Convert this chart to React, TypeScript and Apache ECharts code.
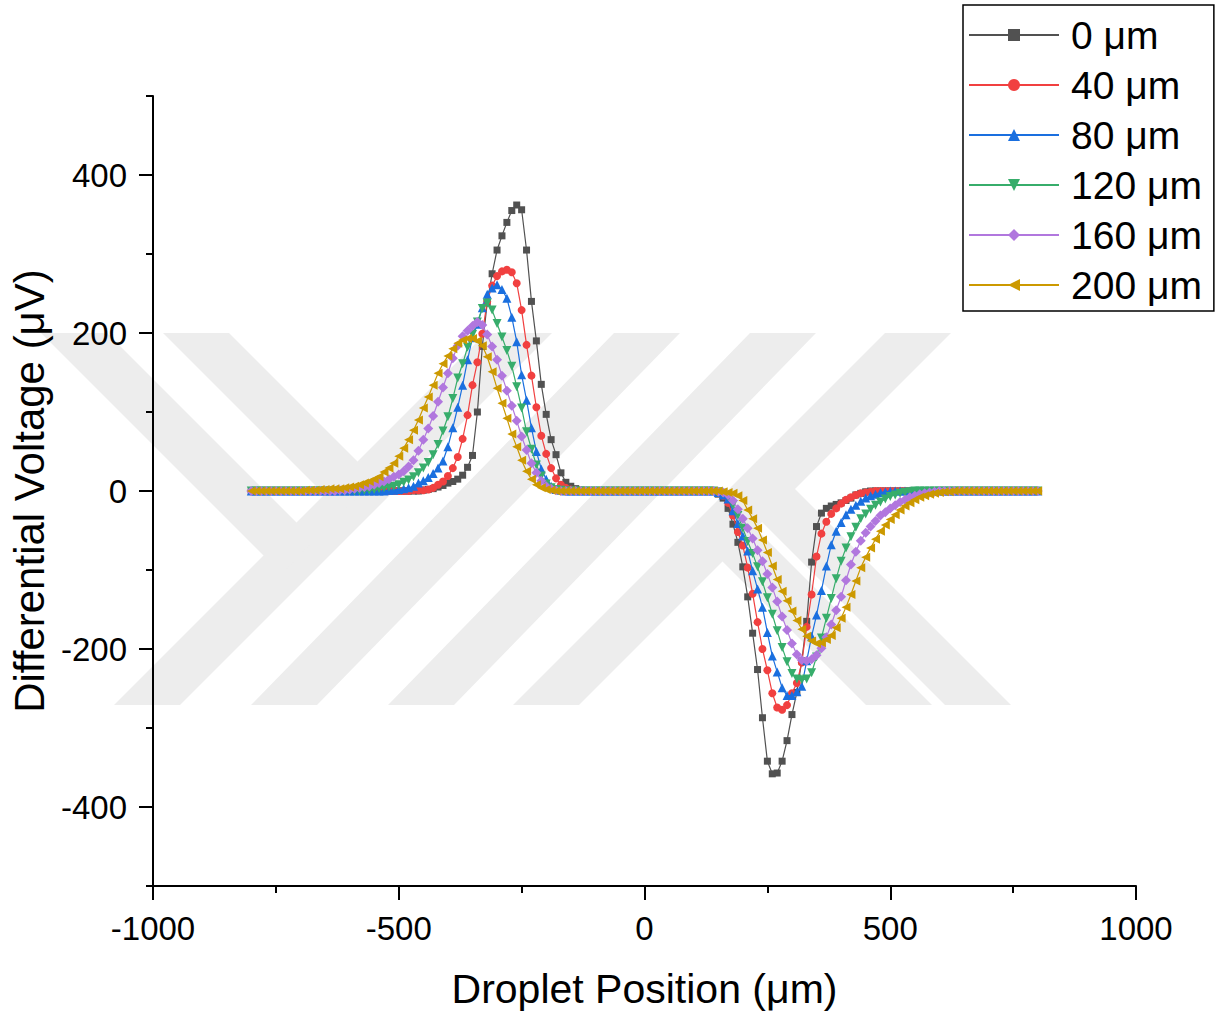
import React, { useEffect, useRef } from 'react';
import * as echarts from 'echarts';

// Droplet position grid (µm)
const positions = [
  -800, -790, -780, -770, -760, -750, -740, -730, -720, -710,
  -700, -690, -680, -670, -660, -650, -640, -630, -620, -610,
  -600, -590, -580, -570, -560, -550, -540, -530, -520, -510,
  -500, -490, -480, -470, -460, -450, -440, -430, -420, -410,
  -400, -390, -380, -370, -360, -350, -340, -330, -320, -310,
  -300, -290, -280, -270, -260, -250, -240, -230, -220, -210,
  -200, -190, -180, -170, -160, -150, -140, -130, -120, -110,
  -100, -90, -80, -70, -60, -50, -40, -30, -20, -10,
  0, 10, 20, 30, 40, 50, 60, 70, 80, 90,
  100, 110, 120, 130, 140, 150, 160, 170, 180, 190,
  200, 210, 220, 230, 240, 250, 260, 270, 280, 290,
  300, 310, 320, 330, 340, 350, 360, 370, 380, 390,
  400, 410, 420, 430, 440, 450, 460, 470, 480, 490,
  500, 510, 520, 530, 540, 550, 560, 570, 580, 590,
  600, 610, 620, 630, 640, 650, 660, 670, 680, 690,
  700, 710, 720, 730, 740, 750, 760, 770, 780, 790,
  800,
];

// Differential voltage (µV) for each height
const v0 = [
  0, 0, 0, 0, 0, 0, 0, 0, 0, 0,
  0, 0, 0, 0, 0, 0, 0, 0, 0, 0,
  0, 0, 0, 0, 0, 0, 0, 0, 0, 0,
  0, 0, 0, 0, 0, 1, 2, 3, 5, 7,
  10, 12, 15, 20, 30, 45, 100, 183, 238, 275,
  305, 323, 340, 355, 362, 356, 305, 240, 190, 135,
  97, 65, 46, 23, 11, 6, 3, 1, 0, 0,
  0, 0, 0, 0, 0, 0, 0, 0, 0, 0,
  0, 0, 0, 0, 0, 0, 0, 0, 0, 0,
  0, 0, 0, 0, 0, -4, -9, -22, -42, -65,
  -96, -134, -180, -226, -287, -342, -358, -357, -342, -316,
  -283, -255, -215, -165, -90, -45, -28, -22, -19, -17,
  -15, -12, -9, -5, -3, -1, 0, 0, 0, 0,
  0, 0, 0, 0, 0, 0, 0, 0, 0, 0,
  0, 0, 0, 0, 0, 0, 0, 0, 0, 0,
  0, 0, 0, 0, 0, 0, 0, 0, 0, 0,
  0,
];

const v40 = [
  0, 0, 0, 0, 0, 0, 0, 0, 0, 0,
  0, 0, 0, 0, 0, 0, 0, 0, 0, 0,
  0, 0, 0, 0, 0, 0, 0, 0, 0, 0,
  0, 0, 0, 1, 1, 1, 2, 4, 8, 12,
  19, 29, 43, 66, 96, 134, 163, 199, 240, 260,
  272, 278, 280, 277, 263, 229, 185, 146, 106, 70,
  47, 29, 16, 8, 4, 2, 1, 0, 0, 0,
  0, 0, 0, 0, 0, 0, 0, 0, 0, 0,
  0, 0, 0, 0, 0, 0, 0, 0, 0, 0,
  0, 0, 0, 0, 0, -2, -6, -15, -31, -52,
  -69, -97, -130, -166, -200, -227, -256, -274, -277, -271,
  -256, -243, -217, -172, -131, -83, -54, -39, -29, -22,
  -16, -11, -8, -5, -3, -2, -1, 0, 0, 0,
  0, 0, 0, 0, 0, 0, 0, 0, 0, 0,
  0, 0, 0, 0, 0, 0, 0, 0, 0, 0,
  0, 0, 0, 0, 0, 0, 0, 0, 0, 0,
  0,
];

const v80 = [
  0, 0, 0, 0, 0, 0, 0, 0, 0, 0,
  0, 0, 0, 0, 0, 0, 0, 0, 0, 0,
  0, 0, 0, 0, 0, 0, 0, 0, 1, 1,
  2, 3, 4, 6, 10, 13, 17, 22, 29, 38,
  56, 80, 106, 134, 166, 194, 211, 232, 249, 257,
  261, 255, 244, 220, 189, 147, 115, 80, 50, 28,
  15, 6, 2, 1, 0, 0, 0, 0, 0, 0,
  0, 0, 0, 0, 0, 0, 0, 0, 0, 0,
  0, 0, 0, 0, 0, 0, 0, 0, 0, 0,
  0, 0, 0, 0, 0, -2, -5, -10, -25, -41,
  -57, -76, -101, -124, -147, -179, -209, -229, -249, -259,
  -259, -254, -247, -215, -184, -157, -126, -95, -68, -51,
  -40, -30, -23, -18, -13, -9, -6, -4, -2, -1,
  0, 0, 0, 0, 0, 0, 0, 0, 0, 0,
  0, 0, 0, 0, 0, 0, 0, 0, 0, 0,
  0, 0, 0, 0, 0, 0, 0, 0, 0, 0,
  0,
];

const v120 = [
  0, 0, 0, 0, 0, 0, 0, 0, 0, 0,
  0, 0, 0, 0, 0, 0, 0, 0, 0, 0,
  0, 0, 0, 1, 1, 2, 3, 4, 5, 6,
  8, 11, 14, 18, 23, 29, 36, 46, 59, 76,
  94, 117, 143, 161, 182, 198, 214, 231, 238, 229,
  212, 195, 178, 158, 132, 105, 75, 53, 33, 19,
  9, 4, 2, 1, 0, 0, 0, 0, 0, 0,
  0, 0, 0, 0, 0, 0, 0, 0, 0, 0,
  0, 0, 0, 0, 0, 0, 0, 0, 0, 0,
  0, 0, 0, 0, 0, -1, -3, -7, -17, -31,
  -47, -64, -79, -96, -115, -135, -156, -177, -198, -216,
  -231, -238, -239, -238, -230, -210, -186, -161, -136, -111,
  -89, -72, -58, -46, -35, -29, -23, -18, -14, -10,
  -7, -5, -3, -2, -1, 0, 0, 0, 0, 0,
  0, 0, 0, 0, 0, 0, 0, 0, 0, 0,
  0, 0, 0, 0, 0, 0, 0, 0, 0, 0,
  0,
];

const v160 = [
  0, 0, 0, 0, 0, 0, 0, 0, 0, 0,
  0, 0, 0, 0, 0, 0, 0, 0, 1, 1,
  2, 3, 4, 5, 6, 8, 10, 12, 15, 18,
  21, 25, 31, 39, 51, 65, 79, 95, 113, 131,
  149, 168, 184, 196, 203, 209, 214, 210, 198, 183,
  166, 146, 127, 108, 89, 69, 52, 35, 23, 13,
  6, 3, 1, 0, 0, 0, 0, 0, 0, 0,
  0, 0, 0, 0, 0, 0, 0, 0, 0, 0,
  0, 0, 0, 0, 0, 0, 0, 0, 0, 0,
  0, 0, 0, 0, 0, -1, -2, -5, -12, -23,
  -35, -47, -60, -75, -89, -105, -122, -140, -159, -176,
  -193, -207, -214, -215, -213, -208, -199, -185, -169, -151,
  -134, -113, -93, -77, -63, -53, -45, -38, -31, -27,
  -22, -18, -14, -11, -8, -6, -4, -3, -2, -1,
  0, 0, 0, 0, 0, 0, 0, 0, 0, 0,
  0, 0, 0, 0, 0, 0, 0, 0, 0, 0,
  0,
];

const v200 = [
  0, 0, 0, 0, 0, 0, 0, 0, 0, 0,
  0, 1, 1, 1, 2, 2, 3, 3, 3, 4,
  5, 6, 8, 10, 12, 15, 18, 24, 29, 35,
  44, 54, 65, 77, 90, 105, 119, 134, 149, 161,
  171, 180, 187, 191, 193, 193, 190, 184, 170, 151,
  130, 111, 92, 72, 56, 39, 25, 15, 8, 4,
  2, 1, 0, 0, 0, 0, 0, 0, 0, 0,
  0, 0, 0, 0, 0, 0, 0, 0, 0, 0,
  0, 0, 0, 0, 0, 0, 0, 0, 0, 0,
  0, 0, 0, 0, 0, 0, -1, -2, -3, -6,
  -12, -24, -35, -47, -62, -78, -95, -112, -127, -139,
  -152, -164, -175, -184, -190, -193, -192, -188, -183, -173,
  -161, -147, -131, -114, -97, -84, -72, -61, -51, -43,
  -36, -30, -24, -19, -15, -11, -8, -6, -4, -3,
  -2, -1, -1, 0, 0, 0, 0, 0, 0, 0,
  0, 0, 0, 0, 0, 0, 0, 0, 0, 0,
  0,
];

const seriesNames = ['0 μm', '40 μm', '80 μm', '120 μm', '160 μm', '200 μm'];
const seriesValues = [v0, v40, v80, v120, v160, v200];
const yMajorTicks = [-400, -200, 0, 200, 400];
const yMinorTicks = [-500, -300, -100, 100, 300, 500];

const COLORS = ['#515151', '#F14040', '#1A6FDF', '#37AD6B', '#B177DE', '#CC9900'];
const SYMBOLS = ['rect', 'circle', 'triangle', 'triangle', 'diamond', 'triangle'];
const ROTATES = [0, 0, 0, 180, 0, 90];
const SIZES = [7, 8, 9, 9, 10, 9];
const FONT = '"Liberation Sans", Arial, Helvetica, sans-serif';
const WM = '#ededed';

export default function App() {
  const ref = useRef<HTMLDivElement>(null);

  useEffect(() => {
    document.body.style.margin = '0';
    if (!ref.current) return;
    const chart = echarts.init(ref.current, null, { renderer: 'svg' });

    const wmPolys = [
      [[114, 705], [180, 705], [552, 333], [486, 333]],
      [[251, 705], [317, 705], [680, 333], [614, 333]],
      [[388, 705], [454, 705], [816, 333], [750, 333]],
      [[513, 705], [579, 705], [951, 333], [885, 333]],
      [[41, 333], [107, 333], [314, 540], [282, 574]],
      [[163, 333], [229, 333], [376, 480], [342, 512]],
      [[706, 545], [739, 512], [932, 705], [866, 705]],
      [[745, 505], [778, 472], [1011, 705], [945, 705]],
    ];

    const plain = (v: number) => String(v);

    const option: any = {
      animation: false,
      backgroundColor: '#ffffff',
      graphic: {
        elements: wmPolys.map((pts) => ({
          type: 'polygon',
          silent: true,
          z: -10,
          shape: { points: pts },
          style: { fill: WM, stroke: null },
        })),
      },
      grid: {
        left: 153,
        right: 84,
        top: 96,
        bottom: 127,
        containLabel: false,
        outerBoundsMode: 'none',
      },
      legend: {
        orient: 'vertical',
        left: 963,
        top: 5,
        itemWidth: 90,
        itemHeight: 15,
        itemGap: 10,
        padding: [10, 12, 6, 5],
        borderColor: '#000',
        borderWidth: 1.5,
        backgroundColor: '#fff',
        borderRadius: 0,
        data: seriesNames,
        textStyle: {
          fontFamily: FONT,
          fontSize: 39,
          color: '#000',
          lineHeight: 40,
          padding: [0, 0, 0, 7],
        },
      },
      xAxis: {
        type: 'value',
        min: -1000,
        max: 1000,
        interval: 500,
        name: 'Droplet Position (μm)',
        nameLocation: 'middle',
        nameGap: 82,
        nameTextStyle: { fontFamily: FONT, fontSize: 41, color: '#000' },
        axisLine: { show: true, onZero: false, lineStyle: { color: '#000', width: 2 } },
        axisTick: { show: true, inside: false, length: 14, lineStyle: { color: '#000', width: 2 } },
        minorTick: { show: true, splitNumber: 2, length: 7, lineStyle: { color: '#000', width: 2 } },
        axisLabel: {
          fontFamily: FONT,
          fontSize: 33,
          color: '#000',
          margin: 26,
          formatter: plain,
        },
        splitLine: { show: false },
        minorSplitLine: { show: false },
      },
      yAxis: [
        {
          type: 'value',
          min: -500,
          max: 500,
          name: 'Differential Voltage (μV)',
          nameLocation: 'middle',
          nameGap: 98,
          nameTextStyle: { fontFamily: FONT, fontSize: 42, color: '#000' },
          axisLine: { show: true, onZero: false, lineStyle: { color: '#000', width: 2 } },
          axisTick: {
            show: true,
            inside: false,
            length: 14,
            customValues: yMajorTicks,
            lineStyle: { color: '#000', width: 2 },
          },
          axisLabel: {
            fontFamily: FONT,
            fontSize: 33,
            color: '#000',
            margin: 26,
            customValues: yMajorTicks,
            formatter: plain,
          },
          splitLine: { show: false },
        },
        {
          type: 'value',
          min: -500,
          max: 500,
          position: 'left',
          axisLine: { show: false, onZero: false },
          axisTick: {
            show: true,
            inside: false,
            length: 7,
            customValues: yMinorTicks,
            lineStyle: { color: '#000', width: 2 },
          },
          axisLabel: { show: false },
          splitLine: { show: false },
        },
      ],
      series: seriesValues.map((vals, k) => ({
        name: seriesNames[k],
        type: 'line',
        yAxisIndex: 0,
        data: positions.map((x, i) => [x, vals[i]]),
        symbol: SYMBOLS[k],
        symbolSize: SIZES[k],
        symbolRotate: ROTATES[k],
        showSymbol: true,
        showAllSymbol: true,
        lineStyle: { color: COLORS[k], width: 1.2 },
        itemStyle: { color: COLORS[k] },
        emphasis: { disabled: true },
        silent: true,
        z: 2 + k,
      })),
    };

    chart.setOption(option);
    return () => chart.dispose();
  }, []);

  return <div ref={ref} style={{ width: 1220, height: 1013 }} />;
}
